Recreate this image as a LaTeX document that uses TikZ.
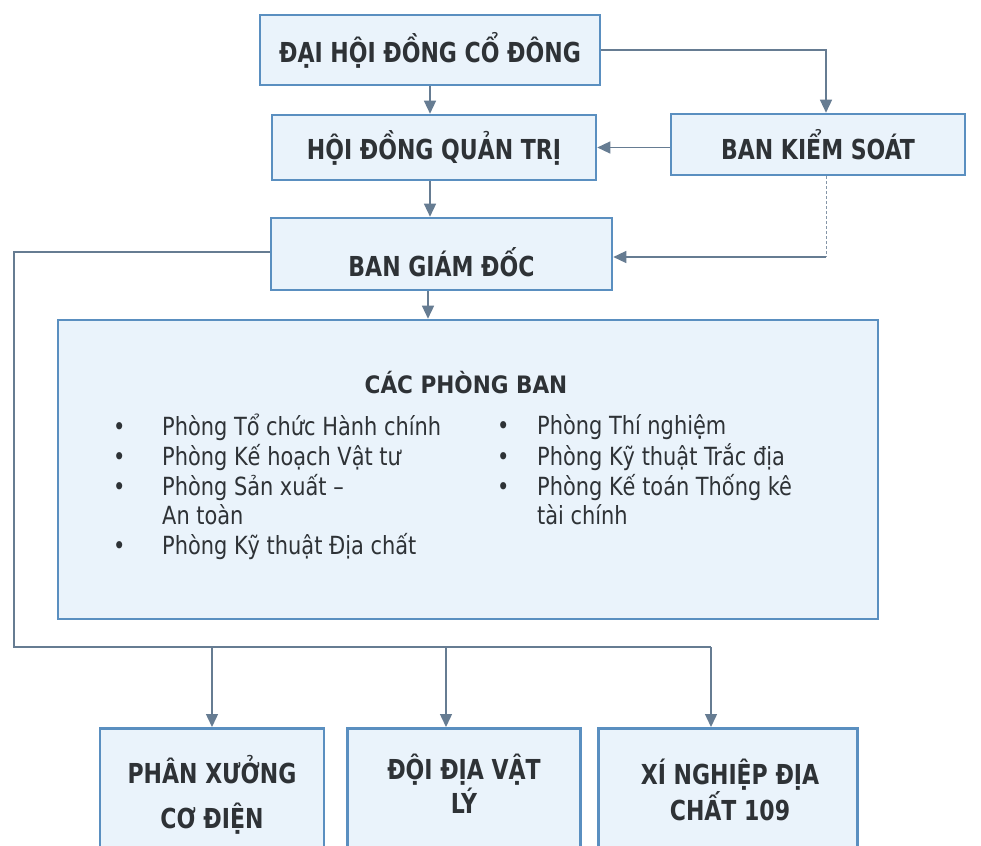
\documentclass[tikz,border=0pt]{standalone}
\usepackage{fontspec}
\setmainfont{DejaVu Sans Condensed}
\newfontfamily\titlefont{DejaVu Sans Condensed}[FakeStretch=0.89]
\newfontfamily\listfont{DejaVu Sans Condensed}[FakeStretch=0.93]
\usetikzlibrary{arrows.meta}
\definecolor{boxfill}{HTML}{EAF3FB}
\definecolor{boxdraw}{HTML}{5A8FC0}
\definecolor{conncol}{HTML}{667C92}
\definecolor{txt}{HTML}{2E3236}
\begin{document}
\begin{tikzpicture}[x=1pt,y=-1pt,
  box/.style={draw=boxdraw, line width=2.6pt, fill=boxfill, inner sep=0pt, text=txt,
    font=\titlefont\bfseries\fontsize{27.5}{30}\selectfont, align=center},
  boxtext/.style={inner sep=0pt, text=txt, font=\titlefont\bfseries\fontsize{27.5}{30}\selectfont, align=center},
  listtext/.style={inner sep=0pt, text=txt, font=\listfont\fontsize{25}{29.3}\selectfont, anchor=north west},
  conn/.style={draw=conncol, line width=1.4pt},
  arr/.style={conn, -{Triangle[length=13pt,width=12pt]}},
  dashline/.style={draw=conncol!80, line width=1pt, dash pattern=on 3pt off 2pt}]
\useasboundingbox (0,0) rectangle (981,845);
\clip (0,0) rectangle (981,845);
\fill[white] (0,0) rectangle (981,845);

% top boxes
\node[box, minimum width=340pt, minimum height=70pt] (dhd) at (430,50) {ĐẠI HỘI ĐỒNG CỔ ĐÔNG};
\node[box, minimum width=324pt, minimum height=65pt] (hdqt) at (434,147.5) {HỘI ĐỒNG QUẢN TRỊ};
\node[box, minimum width=294pt, minimum height=61pt] (bks) at (818,144.5) {BAN KIỂM SOÁT};
\node[box, minimum width=341pt, minimum height=72pt] (bgd) at (441.5,254) {};
\node[boxtext] (bgdt) at (441.5,262) {BAN GIÁM ĐỐC};

% departments box
\node[box, minimum width=820pt, minimum height=299pt] (pb) at (468,469.5) {};
\node[boxtext, font=\bfseries\fontsize{24}{26}\selectfont] (pbt) at (466,383) {CÁC PHÒNG BAN};
\node[listtext] (listl) at (113,414) {\begin{tabular}{@{}p{49pt}@{}l@{}}
•& Phòng Tổ chức Hành chính\\
•& Phòng Kế hoạch Vật tư\\
•& Phòng Sản xuất –\\
 & An toàn\\
•& Phòng Kỹ thuật Địa chất
\end{tabular}};
\node[listtext] (listr) at (497,414) {\begin{tabular}{@{}p{40pt}@{}l@{}}
•& Phòng Thí nghiệm\\
•& Phòng Kỹ thuật Trắc địa\\
•& Phòng Kế toán Thống kê\\
 & tài chính
\end{tabular}};

% bottom boxes
\node[box, minimum width=224pt, minimum height=150pt, anchor=north] (px) at (212,727) {};
\node[box, minimum width=233pt, minimum height=150pt, anchor=north] (dd) at (464,727) {};
\node[box, minimum width=259pt, minimum height=150pt, anchor=north] (xn) at (728,727) {};
\node[boxtext] (pxt) at (212,795) {PHÂN XƯỞNG\\[15pt]CƠ ĐIỆN};
\node[boxtext] (ddt) at (464,784) {ĐỘI ĐỊA VẬT\\[2pt]LÝ};
\node[boxtext] (xnt) at (730,790) {XÍ NGHIỆP ĐỊA\\[0pt]CHẤT 109};

% connectors
\coordinate (kc) at (826,257);
\coordinate (lt) at (14,252);
\coordinate (lb) at (14,647);
\coordinate (mb) at (446,647);
\coordinate (rb) at (711,647);

\draw[arr] (dhd.south) -- (dhd.south |- hdqt.north);
\draw[arr] (dhd.east) -| ([xshift=8pt]bks.north);
\draw[arr] (bks.west |- hdqt.east) -- (hdqt.east);
\draw[arr] (dhd.south |- hdqt.south) -- (dhd.south |- bgd.north);
\draw[dashline] ([xshift=8pt]bks.south) -- (kc);
\draw[arr] (kc) -- (kc -| bgd.east);
\draw[arr] ([xshift=-2pt]dhd.south |- bgd.south) -- ([xshift=-2pt]dhd.south |- pb.north);
\draw[conn] (lt -| bgd.west) -- (lt) -- (lb) -- (rb);
\draw[arr] (lb -| px.north) -- (px.north);
\draw[arr] (mb) -- (mb |- dd.north);
\draw[arr] (rb) -- (rb |- xn.north);
\end{tikzpicture}
\end{document}
